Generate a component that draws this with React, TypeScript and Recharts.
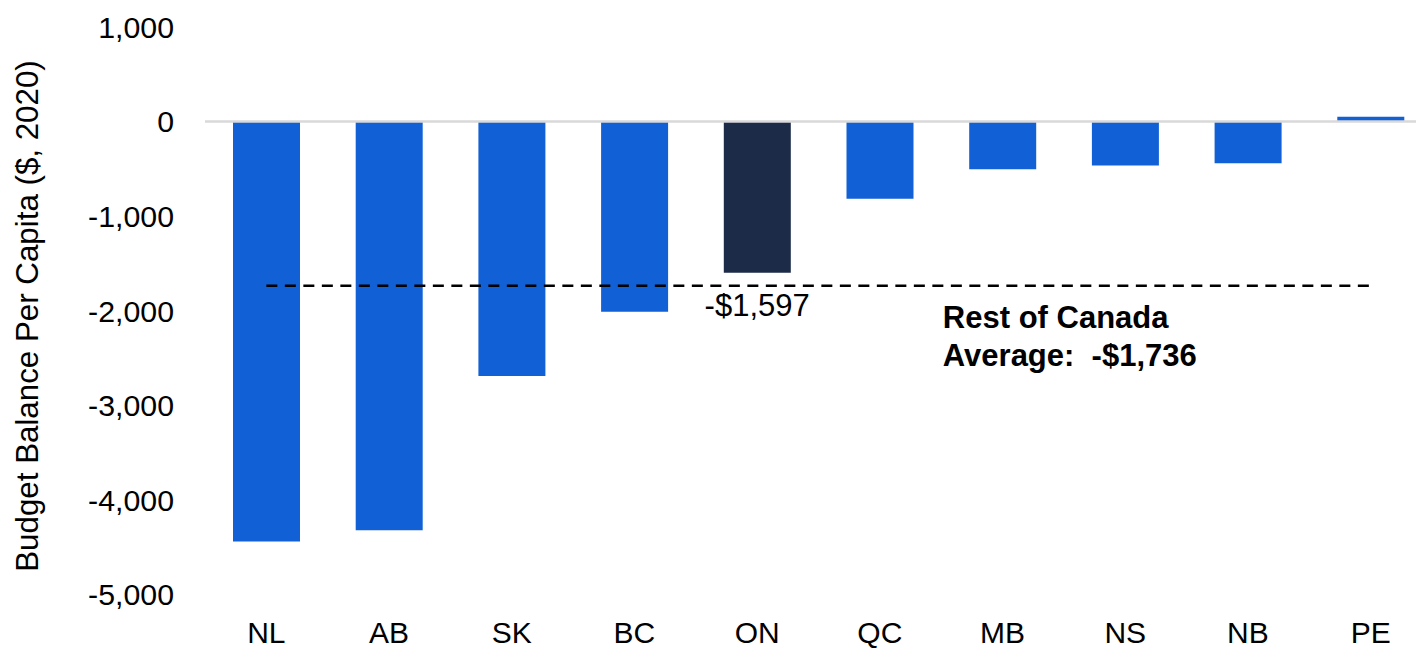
import React from 'react';
import { BarChart, Bar, XAxis, YAxis, Cell, ReferenceLine, ReferenceDot, Label } from 'recharts';

const categories = ['NL', 'AB', 'SK', 'BC', 'ON', 'QC', 'MB', 'NS', 'NB', 'PE'];
const balances = [-4440, -4320, -2690, -2010, -1597, -817, -504, -465, -441, 52];
const yTicks = [1000, 0, -1000, -2000, -3000, -4000, -5000];
const restOfCanadaAverage = -1736;
const highlighted = 'ON';
const highlightedLabel = '-$1,597';
const averageLabelLines = ['Rest of Canada', 'Average:  -$1,736'];
const yAxisTitle = 'Budget Balance Per Capita ($, 2020)';

const data = categories.map((c, i) => ({ name: c, value: balances[i] }));

const FONT = '"Liberation Sans", Arial, Helvetica, sans-serif';
const BLUE = '#1160d6';
const NAVY = '#1c2b48';

const fmt = (v: number) => v.toLocaleString('en-US');

export default function App() {
  return (
    <div
      style={{
        position: 'fixed',
        left: 0,
        top: 0,
        width: 1416,
        height: 650,
        overflow: 'hidden',
        background: '#ffffff',
        fontFamily: FONT,
      }}
    >
      <BarChart
        width={1432}
        height={650}
        data={data}
        margin={{ top: 27, right: 0, bottom: 0, left: 0 }}
        barSize={67}
      >
        <YAxis
          type="number"
          domain={[-5000, 1000]}
          ticks={yTicks}
          interval={0}
          width={205}
          axisLine={false}
          tickLine={false}
          tickSize={0}
          tickMargin={31}
          tickFormatter={fmt}
          tick={{ fill: '#000000', fontSize: 30.3, fontFamily: FONT }}
        >
          <Label
            content={() => (
              <text
                x={38}
                y={316}
                transform="rotate(-90, 38, 316)"
                textAnchor="middle"
                fill="#000000"
                fontSize={31.3}
                fontFamily={FONT}
              >
                {yAxisTitle}
              </text>
            )}
          />
        </YAxis>
        <XAxis
          dataKey="name"
          height={55.5}
          axisLine={false}
          tickLine={false}
          tickSize={0}
          tickMargin={27.5}
          interval={0}
          tick={{ fill: '#000000', fontSize: 30, fontFamily: FONT }}
        />
        <ReferenceLine y={0} stroke="#d9d9d9" strokeWidth={2.5} ifOverflow="extendDomain" />
        <Bar dataKey="value" isAnimationActive={false}>
          {data.map((d) => (
            <Cell key={d.name} fill={d.name === highlighted ? NAVY : BLUE} />
          ))}
        </Bar>
        <ReferenceLine
          segment={[
            { x: categories[0], y: restOfCanadaAverage },
            { x: categories[categories.length - 1], y: restOfCanadaAverage },
          ]}
          stroke="#000000"
          strokeWidth={2.5}
          strokeDasharray="11 7.5"
        />
        <ReferenceDot
          x={highlighted}
          y={restOfCanadaAverage}
          r={0}
          fill="none"
          stroke="none"
          label={(props: any) => {
            const vb = props.viewBox || {};
            const cx = (vb.x ?? 0) + (vb.width ?? 0) / 2;
            const cy = (vb.y ?? 0) + (vb.height ?? 0) / 2;
            return (
              <text x={cx} y={cy + 30} textAnchor="middle" fill="#000000" fontSize={31} fontFamily={FONT}>
                {highlightedLabel}
              </text>
            );
          }}
        />
        <ReferenceDot
          x="QC"
          y={restOfCanadaAverage}
          r={0}
          fill="none"
          stroke="none"
          label={(props: any) => {
            const vb = props.viewBox || {};
            const cx = (vb.x ?? 0) + (vb.width ?? 0) / 2;
            const cy = (vb.y ?? 0) + (vb.height ?? 0) / 2;
            return (
              <text
                x={cx + 63}
                y={cy + 42}
                textAnchor="start"
                fill="#000000"
                fontSize={31}
                fontWeight="bold"
                fontFamily={FONT}
                style={{ whiteSpace: 'pre' }}
              >
                <tspan x={cx + 63} y={cy + 42}>{averageLabelLines[0]}</tspan>
                <tspan x={cx + 63} y={cy + 80}>{averageLabelLines[1]}</tspan>
              </text>
            );
          }}
        />
      </BarChart>
    </div>
  );
}
